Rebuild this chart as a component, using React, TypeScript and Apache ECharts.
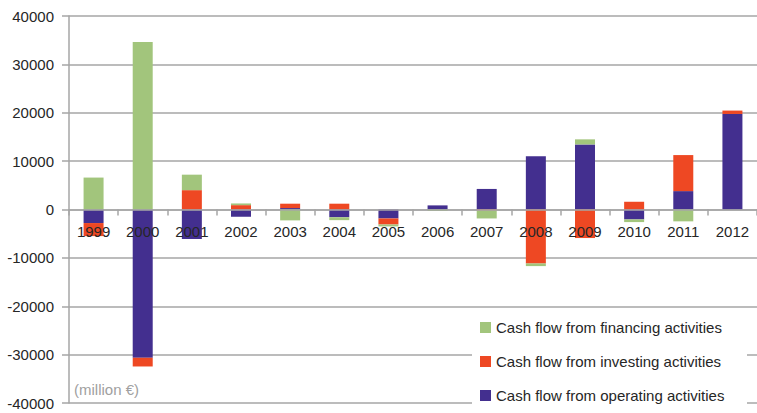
import React, { useEffect, useRef } from "react";
import * as echarts from "echarts";

const years = ["1999","2000","2001","2002","2003","2004","2005","2006","2007","2008","2009","2010","2011","2012"];
const operating = [-2800, -30650, -6100, -1500, 300, -1600, -1850, 850, 4250, 11000, 13450, -2050, 3800, 19750];
const investing = [-2700, -1800, 4000, 900, 900, 1200, -1250, 0, -200, -11150, -5900, 1600, 7450, 700];
const financing = [6600, 34600, 3200, 350, -2250, -600, -400, -300, -1650, -550, 1050, -550, -2450, 0];
const yTicks = { min: -40000, max: 40000, interval: 10000 };

const names = {
  fin: "Cash flow from financing activities",
  inv: "Cash flow from investing activities",
  op: "Cash flow from operating activities",
};

export default function App() {
  const ref = useRef<HTMLDivElement>(null);
  useEffect(() => {
    if (!ref.current) return;
    const chart = echarts.init(ref.current, null, { renderer: "svg" });
    const font = "'Liberation Sans', Arial, sans-serif";
    const gray = "#a6a6a6";
    const barW = 20;
    const top = 16;
    const bottom = 10;
    const plotH = 413 - top - bottom;
    const zeroOffset = -plotH * (0 - yTicks.min) / (yTicks.max - yTicks.min);
    chart.setOption({
      animation: false,
      textStyle: { fontFamily: font },
      grid: { left: 69, right: -8, top, bottom, containLabel: false },
      xAxis: {
        type: "category",
        data: years,
        position: "bottom",
        offset: zeroOffset,
        axisLine: { onZero: false, lineStyle: { color: gray, width: 1.5 } },
        axisTick: { show: true, length: 6, lineStyle: { color: gray, width: 1.5 } },
        axisLabel: { color: "#262626", fontSize: 15, fontFamily: font, margin: 14 },
        z: 5,
      },
      yAxis: {
        type: "value",
        min: yTicks.min,
        max: yTicks.max,
        interval: yTicks.interval,
        axisLine: { show: true, lineStyle: { color: gray, width: 1.5 } },
        axisTick: { show: true, length: 7, lineStyle: { color: gray, width: 1.5 } },
        axisLabel: {
          color: "#262626",
          fontSize: 15,
          fontFamily: font,
          margin: 15,
          formatter: (v: number) => String(v),
        },
        splitLine: { lineStyle: { color: gray, width: 1.5 } },
      },
      legend: {
        orient: "vertical",
        left: 475,
        top: 316,
        padding: [4, 5],
        itemWidth: 11,
        itemHeight: 11,
        itemGap: 19,
        icon: "rect",
        data: [names.fin, names.inv, names.op],
        textStyle: { color: "#262626", fontSize: 15, fontFamily: font },
        z: 10,
      },
      graphic: [
        {
          type: "rect",
          z: 1,
          shape: { x: 472, y: 311, width: 275, height: 102 },
          style: { fill: "#ffffff" },
        },
        {
          type: "text",
          z: 3,
          left: 74,
          top: 382,
          style: { text: "(million €)", fill: "#a0a0a0", font: `15px ${font}` },
        },
      ],
      series: [
        { name: names.op, type: "bar", stack: "cf", data: operating, barWidth: barW, itemStyle: { color: "#432f8f" } },
        { name: names.inv, type: "bar", stack: "cf", data: investing, barWidth: barW, itemStyle: { color: "#ee4823" } },
        { name: names.fin, type: "bar", stack: "cf", data: financing, barWidth: barW, itemStyle: { color: "#a2c57c" } },
      ],
    });
    return () => chart.dispose();
  }, []);
  return <div ref={ref} style={{ width: 757, height: 413, position: "absolute", left: 0, top: 0 }} />;
}
